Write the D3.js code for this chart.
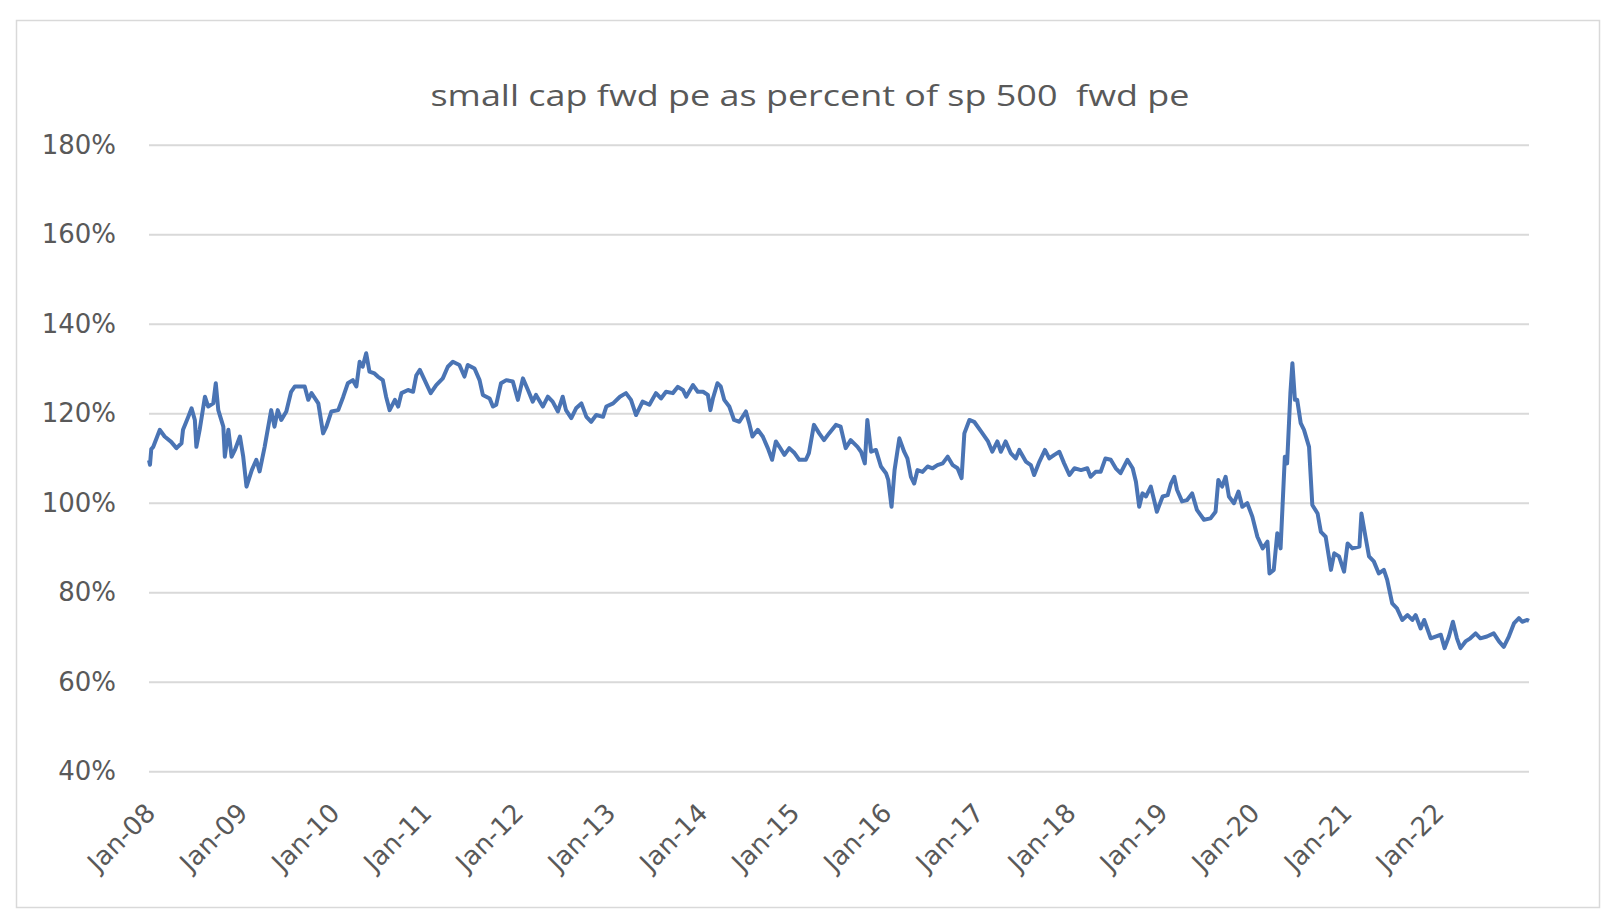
<!DOCTYPE html>
<html><head><meta charset="utf-8">
<script src="https://cdn.jsdelivr.net/npm/d3@7/dist/d3.min.js"></script>
<style>body{margin:0;background:#fff}</style>
</head><body><svg id="c" width="1618" height="920"></svg>
<script>
const title = "small cap fwd pe as percent of sp 500  fwd pe";
const yTicks = [40, 60, 80, 100, 120, 140, 160, 180];
const xTickDates = ["2008-01-01","2009-01-01","2010-01-01","2011-01-01","2012-01-01","2013-01-01","2014-01-01","2015-01-01","2016-01-01","2017-01-01","2018-01-01","2019-01-01","2020-01-01","2021-01-01","2022-01-01"];
const xTickLabels = ["Jan-08","Jan-09","Jan-10","Jan-11","Jan-12","Jan-13","Jan-14","Jan-15","Jan-16","Jan-17","Jan-18","Jan-19","Jan-20","Jan-21","Jan-22"];

const dates = [
"2008-01-01","2008-01-05","2008-01-10","2008-01-18","2008-02-13","2008-03-03","2008-03-29","2008-04-19","2008-05-09","2008-05-15",
"2008-06-05","2008-06-18","2008-07-01","2008-07-07","2008-07-20","2008-08-10","2008-08-23","2008-09-12","2008-09-22","2008-10-02",
"2008-10-22","2008-10-28","2008-11-11","2008-11-24","2008-12-07","2008-12-27","2009-01-09","2009-01-22","2009-02-12","2009-03-02",
"2009-03-15","2009-04-04","2009-04-30","2009-05-13","2009-05-26","2009-06-09","2009-06-29","2009-07-18","2009-08-02","2009-09-10",
"2009-09-24","2009-10-07","2009-11-03","2009-11-22","2009-12-05","2009-12-25","2010-01-21","2010-02-10","2010-02-28","2010-03-20",
"2010-04-03","2010-04-16","2010-04-28","2010-05-12","2010-05-25","2010-06-14","2010-06-27","2010-07-17","2010-07-30","2010-08-13",
"2010-09-03","2010-09-16","2010-09-29","2010-10-25","2010-11-14","2010-11-27","2010-12-11","2010-12-30","2011-01-23","2011-02-14",
"2011-03-12","2011-04-01","2011-04-21","2011-05-17","2011-06-06","2011-06-19","2011-07-16","2011-08-05","2011-08-18","2011-09-14",
"2011-09-27","2011-10-10","2011-10-29","2011-11-19","2011-12-15","2012-01-04","2012-01-24","2012-02-13","2012-03-03","2012-03-16",
"2012-04-12","2012-05-02","2012-05-21","2012-06-11","2012-06-30","2012-07-13","2012-08-03","2012-08-22","2012-09-12","2012-10-02",
"2012-10-21","2012-11-10","2012-12-07","2012-12-20","2013-01-16","2013-02-12","2013-03-08","2013-03-28","2013-04-17","2013-05-13",
"2013-06-09","2013-07-05","2013-07-25","2013-08-14","2013-09-10","2013-09-30","2013-10-20","2013-11-02","2013-11-29","2013-12-18",
"2014-01-08","2014-01-27","2014-02-06","2014-02-16","2014-03-06","2014-03-19","2014-04-02","2014-04-22","2014-05-11","2014-06-01",
"2014-06-27","2014-07-10","2014-07-23","2014-08-13","2014-09-02","2014-09-22","2014-10-09","2014-10-24","2014-11-07","2014-11-27",
"2014-12-16","2015-01-06","2015-01-25","2015-02-20","2015-03-04","2015-03-24","2015-04-14","2015-05-03","2015-05-23","2015-06-19",
"2015-07-08","2015-07-28","2015-08-17","2015-09-13","2015-09-27","2015-10-12","2015-10-22","2015-11-06","2015-11-25","2015-12-15",
"2016-01-04","2016-01-13","2016-01-26","2016-02-07","2016-02-26","2016-03-16","2016-03-29","2016-04-12","2016-04-25","2016-05-08",
"2016-05-28","2016-06-17","2016-07-07","2016-07-26","2016-08-16","2016-09-05","2016-09-25","2016-10-14","2016-10-30","2016-11-10",
"2016-11-30","2016-12-19","2017-01-16","2017-02-12","2017-03-01","2017-03-21","2017-04-04","2017-04-23","2017-05-13","2017-06-02",
"2017-06-16","2017-07-12","2017-08-01","2017-08-14","2017-09-04","2017-09-26","2017-10-13","2017-11-02","2017-11-22","2017-12-11",
"2018-01-01","2018-01-21","2018-02-16","2018-03-13","2018-03-26","2018-04-15","2018-05-05","2018-05-24","2018-06-14","2018-07-04",
"2018-07-23","2018-08-19","2018-09-09","2018-09-22","2018-10-05","2018-10-18","2018-11-01","2018-11-20","2018-12-03","2018-12-14",
"2019-01-06","2019-01-26","2019-02-08","2019-02-21","2019-03-04","2019-03-24","2019-04-13","2019-05-03","2019-05-22","2019-06-19",
"2019-07-15","2019-08-04","2019-08-15","2019-08-30","2019-09-13","2019-09-26","2019-10-16","2019-11-03","2019-11-18","2019-12-08",
"2019-12-28","2020-01-17","2020-02-07","2020-02-26","2020-03-05","2020-03-22","2020-04-05","2020-04-18","2020-05-05","2020-05-14",
"2020-05-27","2020-06-04","2020-06-14","2020-06-23","2020-07-07","2020-07-20","2020-08-09","2020-08-22","2020-09-12","2020-09-25",
"2020-10-14","2020-11-04","2020-11-17","2020-12-06","2020-12-26","2021-01-09","2021-01-28","2021-02-25","2021-03-05","2021-03-21",
"2021-04-04","2021-04-23","2021-05-13","2021-06-02","2021-06-15","2021-07-05","2021-07-24","2021-08-14","2021-09-04","2021-09-23",
"2021-10-06","2021-10-26","2021-11-09","2021-12-05","2021-12-24","2022-01-14","2022-01-29","2022-02-15","2022-03-03","2022-03-19",
"2022-04-02","2022-04-22","2022-05-11","2022-06-01","2022-06-20","2022-07-16","2022-08-12","2022-09-02","2022-09-21","2022-10-11",
"2022-11-01","2022-11-20","2022-12-03","2022-12-23","2022-12-30"
];

const values = [
109.5,108.5,112.0,112.5,116.3,114.8,113.6,112.2,113.3,116.3,
119.2,121.1,118.5,112.5,116.3,123.7,121.5,122.2,126.7,120.7,
117.0,110.3,116.3,110.3,111.8,114.8,110.3,103.6,107.3,109.6,
107.0,112.5,120.7,117.0,120.7,118.5,120.4,124.8,126.0,126.0,
123.0,124.5,122.2,115.5,117.0,120.4,120.7,123.7,126.7,127.4,
126.0,131.5,130.4,133.4,129.3,128.9,128.2,127.4,123.7,120.7,
123.0,121.5,124.5,125.2,124.8,128.5,129.7,127.4,124.5,126.3,
127.8,130.4,131.5,130.8,128.2,130.8,130.0,127.4,124.1,123.3,
121.5,121.9,126.7,127.4,127.1,123.0,127.8,125.2,122.6,124.1,
121.5,123.7,122.6,120.4,123.7,120.7,118.9,121.1,122.2,119.2,
118.1,119.6,119.2,121.5,122.2,123.7,124.5,123.0,119.6,122.6,
121.9,124.5,123.3,124.8,124.5,125.9,125.2,123.7,126.3,124.8,
124.8,124.1,120.7,123.3,126.7,126.0,123.0,121.5,118.5,118.1,
120.4,117.8,114.8,116.3,114.8,112.2,109.6,113.7,112.5,110.7,
112.2,111.1,109.6,109.6,111.1,117.4,115.5,114.0,115.5,117.4,
117.0,112.2,114.0,112.5,111.4,108.8,118.5,111.4,111.8,108.1,
106.6,105.1,99.1,107.3,114.4,111.4,109.9,105.8,104.3,107.3,
106.9,108.1,107.7,108.4,108.8,110.3,108.4,107.7,105.5,115.5,
118.5,118.1,115.9,113.7,111.4,113.7,111.4,113.7,111.1,109.9,
111.8,109.2,108.4,106.2,109.2,111.8,109.9,110.7,111.4,108.8,
106.2,107.7,107.3,107.7,105.8,106.9,106.9,109.9,109.6,107.7,
106.6,109.6,107.7,104.7,99.1,102.1,101.4,103.6,100.6,98.0,
101.4,101.7,104.3,105.8,102.9,100.3,100.6,102.1,98.4,96.2,
96.5,98.0,105.1,103.6,105.8,101.4,99.9,102.5,99.1,99.9,
96.9,92.4,89.8,91.3,84.2,85.0,93.2,89.8,110.3,108.8,
124.5,131.2,123.0,123.0,117.8,116.3,112.5,99.5,97.6,93.5,
92.4,85.0,88.7,88.0,84.6,90.9,89.8,90.2,97.6,92.4,
88.0,86.9,84.2,85.0,82.8,77.5,76.4,73.8,74.9,73.8,
74.9,71.9,73.8,69.7,70.1,70.5,67.5,70.1,73.4,69.7,
67.5,69.0,69.7,70.8,69.7,70.1,70.8,69.0,67.8,70.1,
73.1,74.2,73.4,73.8,73.6
];

const parse = d3.timeParse("%Y-%m-%d");
const data = dates.map((d, i) => ({ date: parse(d), value: values[i] }));

const svg = d3.select("#c");
const plot = { left: 149, right: 1529, top: 144.8, bottom: 771.2 };

// chart area frame
svg.append("rect")
  .attr("x", 16.5).attr("y", 20.5).attr("width", 1583).attr("height", 887)
  .attr("fill", "#fff").attr("stroke", "#d9d9d9").attr("stroke-width", 1.5);

const x = d3.scaleTime()
  .domain(d3.extent(data, d => d.date))
  .range([plot.left, plot.right]);
const y = d3.scaleLinear().domain([40, 180]).range([plot.bottom, plot.top]);

// gridlines + y labels via axis
const yAxis = d3.axisLeft(y).tickValues(yTicks)
  .tickSize(-(plot.right - plot.left))
  .tickPadding(33)
  .tickFormat(d => d + "%");
const gy = svg.append("g").attr("transform", `translate(${plot.left},0)`).call(yAxis);
gy.select(".domain").remove();
gy.selectAll(".tick line").attr("stroke", "#d9d9d9").attr("stroke-width", 2);
gy.selectAll(".tick text")
  .attr("fill", "#595959")
  .style("font-family", "'DejaVu Sans', sans-serif")
  .style("font-size", "26px");

// x axis labels
const tickMap = new Map(xTickDates.map((d, i) => [+parse(d), xTickLabels[i]]));
const xAxis = d3.axisBottom(x)
  .tickValues(xTickDates.map(parse))
  .tickSize(0)
  .tickFormat(d => tickMap.get(+d));
const gx = svg.append("g").attr("transform", `translate(0,${plot.bottom})`).call(xAxis);
gx.select(".domain").remove();
gx.selectAll(".tick text")
  .attr("fill", "#595959")
  .style("font-family", "'DejaVu Sans', sans-serif")
  .style("font-size", "26px")
  .attr("text-anchor", "end")
  .attr("dy", "0.35em")
  .attr("y", 0)
  .attr("transform", "translate(1,37) rotate(-45)");

// line
const line = d3.line().x(d => x(d.date)).y(d => y(d.value));
svg.append("path").datum(data)
  .attr("fill", "none")
  .attr("stroke", "#4a74b4")
  .attr("stroke-width", 4)
  .attr("stroke-linejoin", "round")
  .attr("d", line);

// title
svg.append("text")
  .attr("x", 810).attr("y", 106)
  .attr("text-anchor", "middle")
  .attr("fill", "#595959")
  .style("font-family", "'Open Sans', sans-serif")
  .style("font-size", "30px")
  .style("white-space", "pre")
  .attr("textLength", 759)
  .attr("lengthAdjust", "spacingAndGlyphs")
  .text(title);
</script></body></html>
